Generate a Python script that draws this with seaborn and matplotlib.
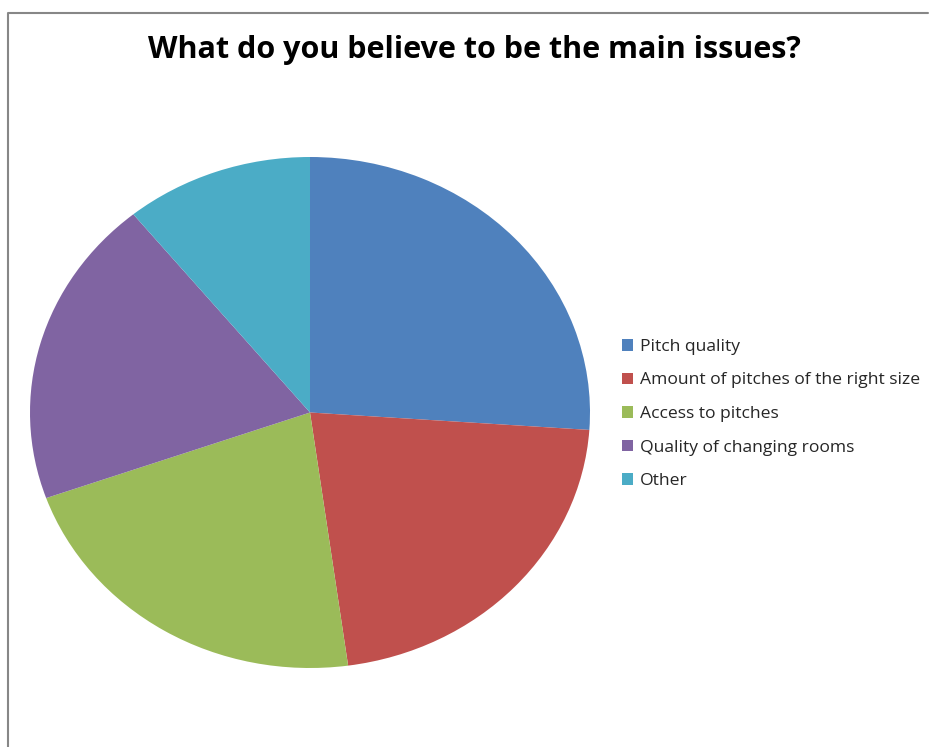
import matplotlib
matplotlib.use("Agg")
import matplotlib.pyplot as plt
from matplotlib.lines import Line2D
import seaborn as sns

categories = ["Pitch quality", "Amount of pitches of the right size",
              "Access to pitches", "Quality of changing rooms", "Other"]
responses = [24, 20, 20, 18, 10]
colors = ["#4F81BD", "#C0504D", "#9BBB59", "#8064A2", "#4BACC6"]
title = "What do you believe to be the main issues?"

sns.set_theme(style="white")
plt.rcParams["font.family"] = ["Open Sans", "DejaVu Sans"]

W, H = 931, 747
fig = plt.figure(figsize=(W / 100, H / 100), dpi=100)
fig.patch.set_facecolor("white")

# pie axes spans the elliptical plot area (stretched, not equal aspect)
x0, x1, y0, y1 = 30, 590, 157, 668
ax = fig.add_axes([x0 / W, 1 - y1 / H, (x1 - x0) / W, (y1 - y0) / H])
palette = sns.color_palette(colors)
wedges, _ = ax.pie(responses, colors=palette, startangle=90, counterclock=False,
                   radius=1, wedgeprops=dict(linewidth=0))
ax.set_aspect("auto")
ax.set_xlim(-1, 1)
ax.set_ylim(-1, 1)
ax.axis("off")

fig.text(474 / W, 1 - 50 / H, title, ha="center", va="center",
         fontsize=22, fontweight="bold", color="black")

fig.legend(wedges, categories, loc="upper left",
           bbox_to_anchor=(615 / W, 1 - 332 / H), frameon=False,
           fontsize=12.6, handlelength=0.65, handleheight=0.65,
           handletextpad=0.35, labelspacing=1.0, borderaxespad=0)

# chart-area border (top and left edges visible)
fig.add_artist(Line2D([7.5 / W, 7.5 / W, 928 / W], [0, 1 - 12.5 / H, 1 - 12.5 / H],
                      transform=fig.transFigure, color="#878787", linewidth=1.5))

fig.savefig("out.png", dpi=100)
